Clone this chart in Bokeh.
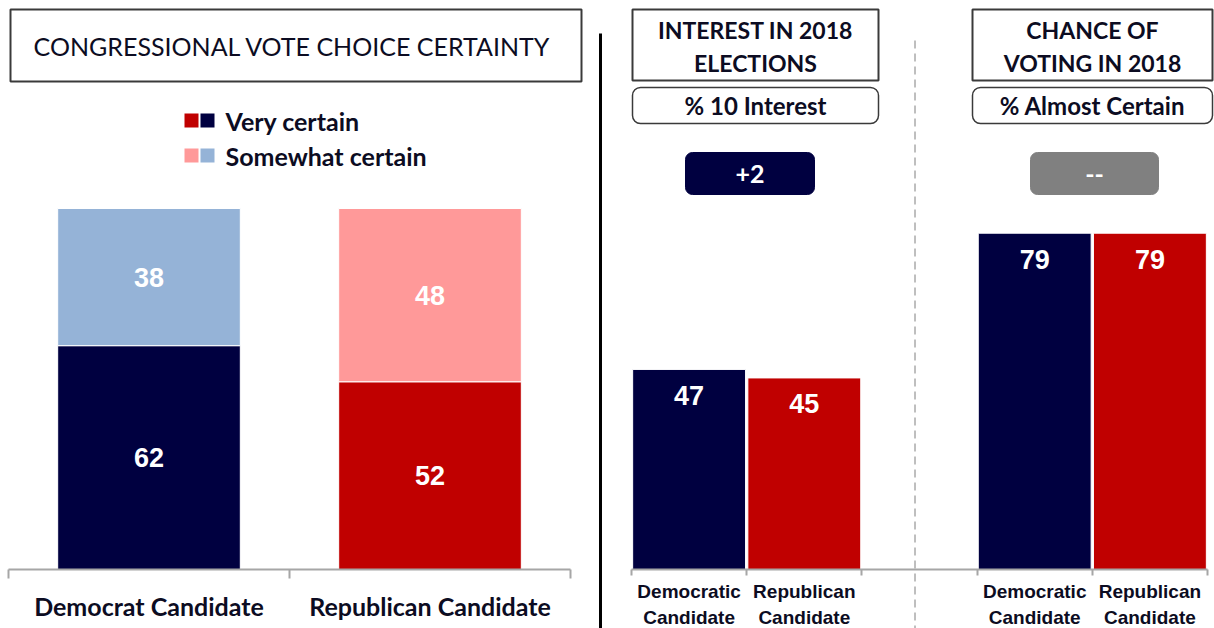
from bokeh.plotting import figure
from bokeh.models import Range1d, LinearAxis, FixedTicker
from bokeh.core.properties import value
from bokeh.embed import file_html
from bokeh.resources import INLINE

# ---------------- data ----------------
left_categories = ["Democrat Candidate", "Republican Candidate"]
very_certain = [62, 52]
somewhat_certain = [38, 48]

right_categories = ["Democratic\nCandidate", "Republican\nCandidate"]
interest_10 = [47, 45]
almost_certain = [79, 79]

left_title = "CONGRESSIONAL  VOTE CHOICE CERTAINTY"
legend_labels = ["Very certain", "Somewhat certain"]
panel_titles = [["INTEREST IN 2018", "ELECTIONS"], ["CHANCE OF", "VOTING IN 2018"]]
panel_subtitles = ["% 10 Interest", "% Almost Certain"]
panel_diffs = ["+2", "--"]

# ---------------- styles / layout ----------------
NAVY = "#000040"
RED = "#C00000"
LBLUE = "#95B3D7"
PINK = "#FF9999"
GRAYB = "#808080"
TXT = "#0c0c22"
AXC = "#A6A6A6"

W, H = 1214, 628
BASE = 569
LX0, LPX, LPY = 8, 281.0, 3.61
RX0, RPX, RPY = 631, 115.2, 4.257


def lx(px):
    return (px - LX0) / LPX


def ly(py):
    return (BASE - py) / LPY


def rx(px):
    return (px - RX0) / RPX


def ry(py):
    return (BASE - py) / RPY


p = figure(width=W, height=H,
           x_range=Range1d(lx(0), lx(W)), y_range=Range1d(ly(H), ly(0)),
           x_axis_type=None, y_axis_type=None,
           output_backend="svg", toolbar_location=None,
           min_border=0, outline_line_color=None,
           background_fill_color="white", border_fill_color="white")
p.extra_x_ranges = {"r": Range1d(rx(0), rx(W))}
p.extra_y_ranges = {"r": Range1d(ry(H), ry(0))}
R = dict(x_range_name="r", y_range_name="r")

CAL = value("Lato")
ARI = value("Liberation Sans")

# ---------------- left panel ----------------
lxs = [0.5 + i for i in range(len(left_categories))]
tops = [v + s for v, s in zip(very_certain, somewhat_certain)]
p.vbar(x=lxs, width=0.65, bottom=0, top=very_certain,
       fill_color=[NAVY, RED], line_color="white", line_width=1)
p.vbar(x=lxs, width=0.65, bottom=very_certain, top=tops,
       fill_color=[LBLUE, PINK], line_color="white", line_width=1)
p.text(x=lxs + lxs,
       y=[v / 2 for v in very_certain] + [v + s / 2 for v, s in zip(very_certain, somewhat_certain)],
       text=[str(v) for v in very_certain] + [str(s) for s in somewhat_certain],
       text_align="center", text_baseline="middle", text_color="white",
       text_font=ARI, text_font_style="bold", text_font_size=value("27px"))

ax_l = LinearAxis(ticker=FixedTicker(ticks=lxs, minor_ticks=list(range(len(left_categories) + 1))),
                  bounds=(0, len(left_categories)), fixed_location=0,
                  major_label_overrides={x: c for x, c in zip(lxs, left_categories)},
                  major_tick_line_color=None, major_tick_out=0, major_tick_in=0,
                  minor_tick_line_color=AXC, minor_tick_out=9, minor_tick_in=0, minor_tick_line_width=2,
                  axis_line_color=AXC, axis_line_width=2,
                  major_label_standoff=12,
                  major_label_text_font="Lato", major_label_text_font_style="bold",
                  major_label_text_font_size="25px", major_label_text_color=TXT)
p.add_layout(ax_l, "below")

# title box
p.quad(left=lx(10), right=lx(581), top=ly(9), bottom=ly(81),
       fill_color=None, line_color="#3a3a3a", line_width=2)
p.text(x=[lx(295)], y=[ly(45)], text=[left_title], text_align="center", text_baseline="middle",
       text_color=TXT, text_font=CAL, text_font_size=value("25px"))

# legend
for i, (lab, cols) in enumerate(zip(legend_labels, [[RED, NAVY], [PINK, LBLUE]])):
    yc = 120 + 35 * i
    p.quad(left=[lx(184), lx(200)], right=[lx(198), lx(214)],
           top=ly(yc - 7), bottom=ly(yc + 7), fill_color=cols, line_color=None)
    p.text(x=[lx(225)], y=[ly(yc)], text=[lab], text_align="left", text_baseline="middle",
           text_color=TXT, text_font=CAL, text_font_style="bold", text_font_size=value("25px"))

# ---------------- right panel ----------------
groups = [interest_10, almost_certain]
gap = 1
for g, vals in enumerate(groups):
    xs = [g * (len(vals) + gap) + 0.5 + i for i in range(len(vals))]
    p.vbar(x=xs, width=0.98, bottom=0, top=vals, fill_color=[NAVY, RED],
           line_color="white", line_width=1, **R)
    p.text(x=xs, y=[v - 26 / RPY for v in vals], text=[str(v) for v in vals],
           text_align="center", text_baseline="middle", text_color="white",
           text_font=ARI, text_font_style="bold", text_font_size=value("27px"), **R)

n = len(right_categories)
rxs = [g * (n + gap) + 0.5 + i for g in range(len(groups)) for i in range(n)]
rlabels = {x: right_categories[k % n] for k, x in enumerate(rxs)}
ax_r = LinearAxis(ticker=FixedTicker(ticks=rxs, minor_ticks=list(range(len(groups) * (n + gap)))),
                  bounds=(0, len(groups) * (n + gap) - gap), fixed_location=0,
                  major_label_overrides=rlabels,
                  major_tick_line_color=None, major_tick_out=0, major_tick_in=0,
                  minor_tick_line_color=AXC, minor_tick_out=6, minor_tick_in=0, minor_tick_line_width=2,
                  axis_line_color=AXC, axis_line_width=2,
                  major_label_standoff=5,
                  major_label_text_font="Liberation Sans", major_label_text_font_style="bold",
                  major_label_text_font_size="19px", major_label_text_color=TXT,
                  major_label_text_line_height=1.28, **R)
p.add_layout(ax_r, "below")

# divider lines
p.segment(x0=lx(600), y0=ly(33), x1=lx(600), y1=ly(H), line_color="black", line_width=3)
p.segment(x0=rx(914.5), y0=ry(40), x1=rx(914.5), y1=ry(H), line_color="#7f7f7f",
          line_width=1, line_dash="8 5", **R)

# panel headers
box_x = [(632, 878), (972, 1212)]
badge_x = [(685, 814), (1030, 1158)]
badge_col = [NAVY, GRAYB]
for k in range(2):
    x0, x1 = box_x[k]
    xc = (x0 + x1) / 2
    p.quad(left=rx(x0), right=rx(x1), top=ry(9), bottom=ry(80),
           fill_color=None, line_color="#3a3a3a", line_width=2, **R)
    p.text(x=[rx(xc), rx(xc)], y=[ry(29), ry(62)], text=panel_titles[k],
           text_align="center", text_baseline="middle", text_color=TXT,
           text_font=CAL, text_font_style="bold", text_font_size=value("23px"), **R)
    p.quad(left=rx(x0), right=rx(x1), top=ry(87), bottom=ry(123), border_radius=8,
           fill_color=None, line_color="#3a3a3a", line_width=1.5, **R)
    p.text(x=[rx(xc)], y=[ry(105)], text=[panel_subtitles[k]],
           text_align="center", text_baseline="middle", text_color=TXT,
           text_font=CAL, text_font_style="bold", text_font_size=value("24px"), **R)
    b0, b1 = badge_x[k]
    p.quad(left=rx(b0), right=rx(b1), top=ry(152), bottom=ry(194), border_radius=7,
           fill_color=badge_col[k], line_color=badge_col[k], **R)
    p.text(x=[rx((b0 + b1) / 2)], y=[ry(173)], text=[panel_diffs[k]],
           text_align="center", text_baseline="middle", text_color="white",
           text_font=CAL, text_font_style="bold", text_font_size=value("25px"), **R)

open("out.html", "w").write(file_html(p, INLINE))
